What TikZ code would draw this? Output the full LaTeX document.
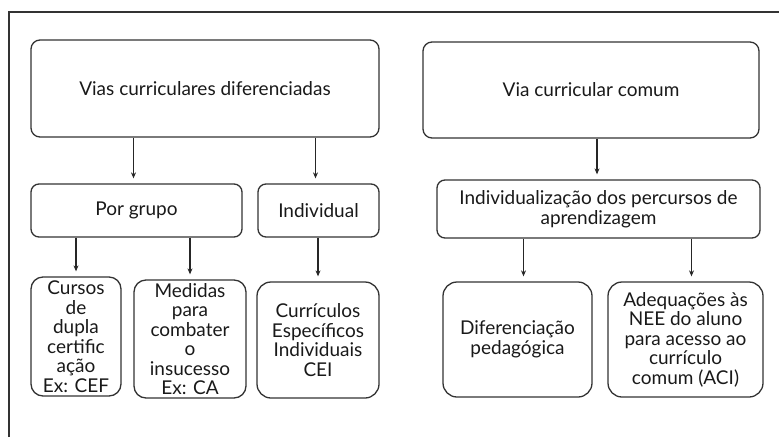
\documentclass[tikz,border=0pt]{standalone}
\usepackage{fontspec}
\setmainfont{Lato}
\usetikzlibrary{positioning,arrows.meta}

\begin{document}
\begin{tikzpicture}[x=1pt, y=-1pt,
    box/.style={draw=black!80, line width=1.3pt, rounded corners=9pt, inner sep=0pt, align=center, text=black!90, font=\fontsize{19}{19.5}\selectfont},
    arr/.style={->, >={Stealth[length=6pt, width=5pt]}, line width=1.1pt, draw=black!85, shorten >=5pt}]

\useasboundingbox (0,0) rectangle (779,437);

% Outer frame (cut off at right and bottom)
\draw[black!80, line width=1.1pt] (9,437) -- (9,12) -- (779,12);

% Top boxes
\node[box, minimum width=348pt, minimum height=97pt] (vias) at (205,88.5) {Vias curriculares diferenciadas};
\node[box, minimum width=336pt, minimum height=96pt] (comum) at (591,90) {Via curricular comum};

% Middle boxes
\node[box, rounded corners=8pt, minimum width=211pt, minimum height=53pt] (grupo) at (136.5,210.5) {Por grupo};
\node[box, rounded corners=8pt, minimum width=121pt, minimum height=53pt] (individual) at (318.5,210.5) {Individual};
\node[box, rounded corners=8pt, minimum width=323pt, minimum height=58pt] (percursos) at (598.5,209) {Individualização dos percursos de\\aprendizagem};

% Bottom boxes
\node[box, rounded corners=12pt, minimum width=90pt, minimum height=119pt] (cursos) at (76,336.5) {Cursos\\de\\dupla\\certific\\ação\\Ex: CEF};
\node[box, rounded corners=12pt, minimum width=112pt, minimum height=118pt] (medidas) at (190,339) {Medidas\\para\\combater\\o\\insucesso\\Ex: CA};
\node[box, rounded corners=14pt, minimum width=122pt, minimum height=116pt] (cei) at (318,340) {Currículos\\Específicos\\Individuais\\CEI};
\node[box, rounded corners=14pt, minimum width=149pt, minimum height=115pt] (difer) at (517.5,339.5) {Diferenciação\\pedagógica};
\node[box, rounded corners=14pt, minimum width=155pt, minimum height=115pt] (aci) at (685.5,339.5) {Adequações às\\NEE do aluno\\para acesso ao\\currículo\\comum (ACI)};

% Arrows
\draw[arr] ([xshift=-3pt]vias.south -| grupo.north) -- ([xshift=-3pt]grupo.north);
\draw[arr] ([xshift=-3pt]vias.south -| individual.north) -- ([xshift=-3pt]individual.north);
\draw[arr] ([xshift=6pt]comum.south) -- ([xshift=6pt]comum.south |- percursos.north);
\draw[arr] (grupo.south -| cursos.north) -- (cursos.north);
\draw[arr] (grupo.south -| medidas.north) -- (medidas.north);
\draw[arr] (individual.south -| cei.north) -- (cei.north);
\draw[arr] ([xshift=6pt]percursos.south -| difer.north) -- ([xshift=6pt]difer.north);
\draw[arr] ([xshift=6pt]percursos.south -| aci.north) -- ([xshift=6pt]aci.north);

\end{tikzpicture}
\end{document}
